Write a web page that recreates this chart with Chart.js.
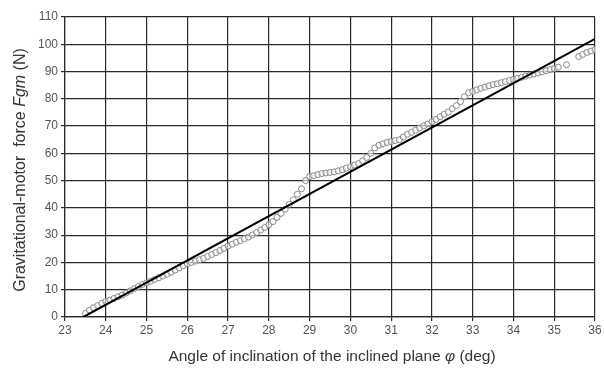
<!DOCTYPE html>
<html>
<head>
<meta charset="utf-8">
<script src="https://cdn.jsdelivr.net/npm/chart.js@4"></script>
<style>
  html, body { margin: 0; padding: 0; background: #fff; }
  #wrap { width: 604px; height: 371px; }
</style>
</head>
<body>
<div id="wrap"><canvas id="chart" width="604" height="371"></canvas></div>
<script>
// measured points: angle (deg) and force (N)
const angleDeg = [
  23.5, 23.6, 23.7, 23.8, 23.9, 24.0, 24.1, 24.2, 24.3, 24.4,
  24.5, 24.6, 24.7, 24.8, 24.9, 25.0, 25.1, 25.2, 25.3, 25.4,
  25.5, 25.6, 25.7, 25.8, 25.9, 26.0, 26.1, 26.2, 26.3, 26.4,
  26.5, 26.6, 26.7, 26.8, 26.9, 27.0, 27.1, 27.2, 27.3, 27.4,
  27.5, 27.6, 27.7, 27.8, 27.9, 28.0, 28.1, 28.2, 28.3, 28.4,
  28.5, 28.6, 28.7, 28.8, 28.9, 29.0, 29.1, 29.2, 29.3, 29.4,
  29.5, 29.6, 29.7, 29.8, 29.9, 30.0, 30.1, 30.2, 30.3, 30.4,
  30.5, 30.6, 30.7, 30.8, 30.9, 31.0, 31.1, 31.2, 31.3, 31.4,
  31.5, 31.6, 31.7, 31.8, 31.9, 32.0, 32.1, 32.2, 32.3, 32.4,
  32.5, 32.6, 32.7, 32.8, 32.9, 33.0, 33.1, 33.2, 33.3, 33.4,
  33.5, 33.6, 33.7, 33.8, 33.9, 34.0, 34.1, 34.2, 34.3, 34.4,
  34.5, 34.6, 34.7, 34.8, 34.9, 35.0, 35.1, 35.3, 35.6, 35.7,
  35.8, 35.9, 36.0
];
const forceN = [
  1.3, 2.5, 3.4, 4.2, 5.0, 5.7, 6.2, 6.8, 7.4, 8.0,
  8.8, 9.6, 10.4, 11.2, 11.9, 12.5, 13.1, 13.8, 14.4, 15.0,
  15.7, 16.4, 17.2, 18.0, 18.8, 19.5, 20.0, 20.5, 21.0, 21.5,
  22.2, 22.9, 23.6, 24.4, 25.2, 26.0, 26.7, 27.4, 28.0, 28.7,
  29.3, 30.1, 31.0, 31.9, 32.8, 33.8, 35.0, 36.5, 38.0, 39.5,
  41.3, 43.0, 45.0, 47.0, 50.0, 51.5, 51.8, 52.2, 52.6, 52.8,
  53.0, 53.2, 53.6, 54.0, 54.6, 55.1, 55.7, 56.3, 57.3, 58.5,
  60.0, 62.0, 63.0, 63.5, 64.0, 64.3, 64.7, 65.0, 66.0, 67.0,
  67.7, 68.5, 69.3, 70.1, 70.8, 71.6, 72.5, 73.4, 74.3, 75.2,
  76.4, 77.5, 79.0, 80.8, 82.2, 82.7, 83.3, 83.8, 84.3, 84.8,
  85.2, 85.5, 85.9, 86.3, 86.7, 87.1, 87.5, 87.9, 88.3, 88.7,
  89.1, 89.5, 89.9, 90.3, 90.7, 91.1, 91.6, 92.5, 95.5, 96.3,
  97.0, 97.5, 98.0
];
// fitted straight line, end points
const fitAngle = [23.45, 36];
const fitForce = [0, 102];

const xTicks = [23, 24, 25, 26, 27, 28, 29, 30, 31, 32, 33, 34, 35, 36];
const yTicks = [0, 10, 20, 30, 40, 50, 60, 70, 80, 90, 100, 110];

const FONT = '"Liberation Sans", Arial, sans-serif';

// draws text made of plain / italic runs
function drawRuns(ctx, runs, size) {
  let total = 0;
  runs.forEach(r => {
    ctx.font = (r.it ? 'italic ' : '') + size + 'px ' + FONT;
    r.w = ctx.measureText(r.t).width;
    total += r.w;
  });
  let x = -total / 2;
  runs.forEach(r => {
    ctx.font = (r.it ? 'italic ' : '') + size + 'px ' + FONT;
    ctx.fillText(r.t, x, 0);
    x += r.w;
  });
}

const axisTitles = {
  id: 'axisTitles',
  afterDraw(chart) {
    const ctx = chart.ctx;
    ctx.save();
    ctx.fillStyle = '#333';
    ctx.textBaseline = 'middle';
    ctx.textAlign = 'left';
    // x title
    ctx.save();
    ctx.translate(332, 357);
    drawRuns(ctx, [
      { t: 'Angle of inclination of the inclined plane ' },
      { t: 'φ', it: true },
      { t: ' (deg)' }
    ], 15.5);
    ctx.restore();
    // y title
    ctx.save();
    ctx.translate(21, 170);
    ctx.rotate(-Math.PI / 2);
    drawRuns(ctx, [
      { t: 'Gravitational-motor  force ' },
      { t: 'Fgm', it: true },
      { t: ' (N)' }
    ], 16);
    ctx.restore();
    ctx.restore();
  }
};

new Chart(document.getElementById('chart').getContext('2d'), {
  type: 'scatter',
  data: {
    datasets: [
      {
        label: 'measured',
        data: angleDeg.map((a, i) => ({ x: a, y: forceN[i] })),
        pointStyle: 'circle',
        pointRadius: 3,
        pointBorderWidth: 1,
        pointBorderColor: '#888',
        pointBackgroundColor: 'rgba(255,255,255,0.6)',
        showLine: false,
        order: 2
      },
      {
        label: 'fit',
        type: 'line',
        data: fitAngle.map((a, i) => ({ x: a, y: fitForce[i] })),
        borderColor: '#000',
        borderWidth: 2,
        pointRadius: 0,
        fill: false,
        order: 1
      }
    ]
  },
  options: {
    responsive: false,
    animation: false,
    layout: { padding: { left: 0, top: 17, right: 9, bottom: 0 } },
    plugins: {
      legend: { display: false },
      tooltip: { enabled: false }
    },
    scales: {
      x: {
        type: 'linear',
        min: xTicks[0],
        max: xTicks[xTicks.length - 1],
        afterBuildTicks: s => { s.ticks = xTicks.map(v => ({ value: v })); },
        afterFit: s => { s.height = 54; },
        ticks: { color: '#555', font: { family: FONT, size: 12 }, padding: 2 },
        grid: { color: '#2a2a2a', lineWidth: 1.2, tickLength: 4 },
        border: { color: '#2a2a2a', width: 1.2 }
      },
      y: {
        min: yTicks[0],
        max: yTicks[yTicks.length - 1],
        afterBuildTicks: s => { s.ticks = yTicks.map(v => ({ value: v })); },
        afterFit: s => { s.width = 65; },
        ticks: { color: '#555', font: { family: FONT, size: 12 }, padding: 3 },
        grid: { color: '#2a2a2a', lineWidth: 1.2, tickLength: 4 },
        border: { color: '#2a2a2a', width: 1.2 }
      }
    }
  },
  plugins: [axisTitles]
});
</script>
</body>
</html>
